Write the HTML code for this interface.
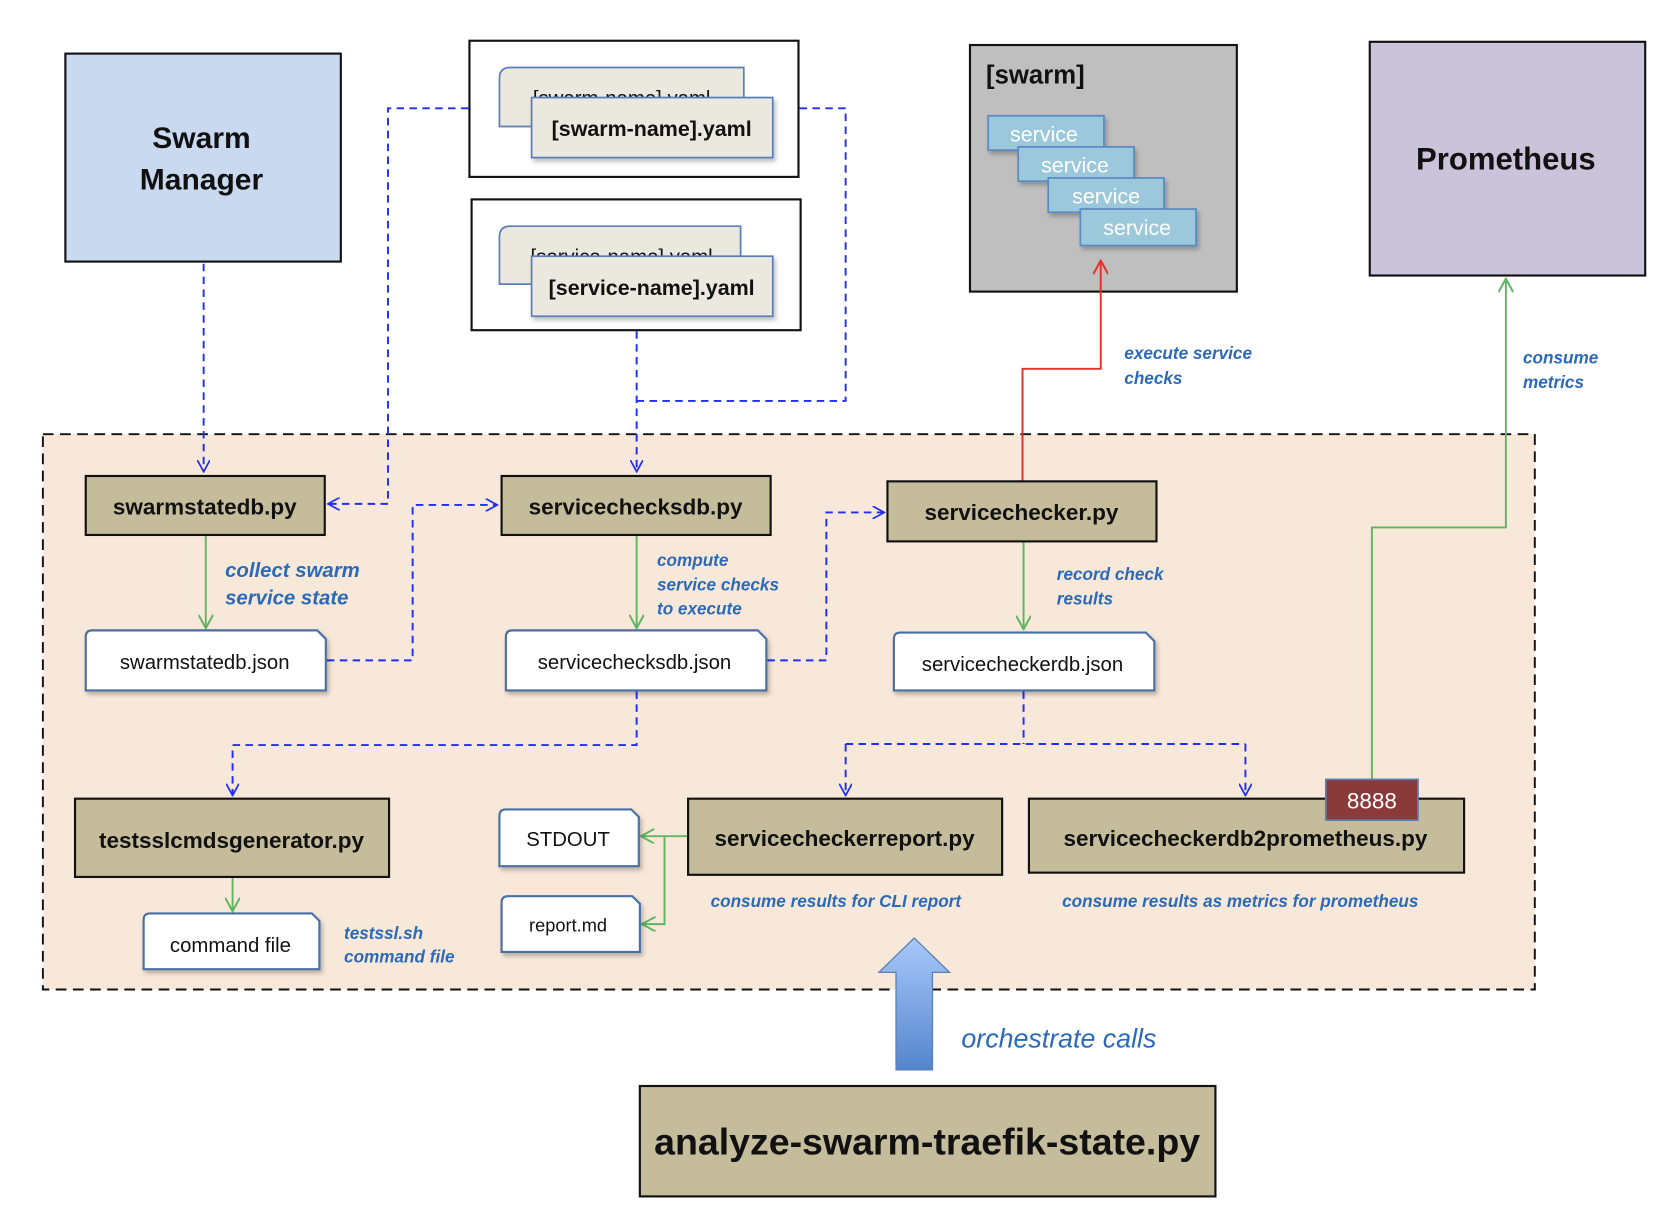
<!DOCTYPE html>
<html><head><meta charset="utf-8"><style>
html,body{margin:0;padding:0;background:#fff}
svg{display:block}
text{font-family:"Liberation Sans",sans-serif}
.b{font-weight:bold;fill:#111}
.lab{font-style:italic;font-weight:bold;fill:#2a6ab8}
.dash{fill:none;stroke:#1f2ff5;stroke-width:1.8;stroke-dasharray:7,5}
.gr{fill:none;stroke:#62b462;stroke-width:1.8}
.py{fill:#c4bc9a;stroke:#111;stroke-width:2}
.doc{fill:#fff;stroke:#4a6fa5;stroke-width:2}
</style></head><body>
<svg width="1672" height="1220" viewBox="0 0 1560 1138" preserveAspectRatio="none" xmlns="http://www.w3.org/2000/svg">
<defs>
<marker id="ab" viewBox="0 0 12 12" refX="11" refY="6" markerWidth="12" markerHeight="12" markerUnits="userSpaceOnUse" orient="auto"><path d="M0,0 L11,6 L0,12" fill="none" stroke="#1f2ff5" stroke-width="1.6"/></marker>
<marker id="ag" viewBox="0 0 12 12" refX="11" refY="6" markerWidth="14" markerHeight="14" markerUnits="userSpaceOnUse" orient="auto"><path d="M0,0 L11,6 L0,12" fill="none" stroke="#62b462" stroke-width="1.6"/></marker>
<marker id="ar" viewBox="0 0 12 12" refX="11" refY="6" markerWidth="14" markerHeight="14" markerUnits="userSpaceOnUse" orient="auto"><path d="M0,0 L11,6 L0,12" fill="none" stroke="#e8302a" stroke-width="1.6"/></marker>
<linearGradient id="bg" x1="0" y1="0" x2="0" y2="1"><stop offset="0" stop-color="#a9c8fa"/><stop offset="1" stop-color="#5485cc"/></linearGradient>
<filter id="sh" x="-10%" y="-10%" width="130%" height="140%"><feDropShadow dx="2" dy="3" stdDeviation="2" flood-color="#000" flood-opacity="0.25"/></filter>
</defs>

<!-- container -->
<rect x="40" y="405" width="1392" height="518" fill="#f8e8da" stroke="#111" stroke-width="1.8" stroke-dasharray="10,6"/>

<!-- Swarm manager -->
<rect x="61" y="50" width="257" height="194" fill="#c9daf0" stroke="#111" stroke-width="2"/>
<text x="188" y="138" class="b" font-size="28" text-anchor="middle">Swarm</text>
<text x="188" y="177" class="b" font-size="28" text-anchor="middle">Manager</text>

<!-- yaml boxes -->
<rect x="438" y="38" width="307" height="127" fill="#fff" stroke="#111" stroke-width="2"/>
<path d="M466,118 V73 Q466,63 476,63 H694 V118 Z" fill="#ebe8e0" stroke="#5a7fb8" stroke-width="1.6"/>
<text x="580" y="98" font-size="19" text-anchor="middle" fill="#111">[swarm-name].yaml</text>
<rect x="496" y="91" width="225" height="56" fill="#ebe8e0" stroke="#5a7fb8" stroke-width="1.6" filter="url(#sh)"/>
<text x="608" y="127" class="b" font-size="20" text-anchor="middle">[swarm-name].yaml</text>

<rect x="440" y="186" width="307" height="122" fill="#fff" stroke="#111" stroke-width="2"/>
<path d="M466,265 V221 Q466,211 476,211 H691 V265 Z" fill="#ebe8e0" stroke="#5a7fb8" stroke-width="1.6"/>
<text x="580" y="246" font-size="19" text-anchor="middle" fill="#111">[service-name].yaml</text>
<rect x="496" y="239" width="225" height="56" fill="#ebe8e0" stroke="#5a7fb8" stroke-width="1.6" filter="url(#sh)"/>
<text x="608" y="275" class="b" font-size="20" text-anchor="middle">[service-name].yaml</text>

<!-- swarm -->
<rect x="905" y="42" width="249" height="230" fill="#bfbfbf" stroke="#111" stroke-width="2"/>
<text x="920" y="78" class="b" font-size="24">[swarm]</text>
<g font-size="20" fill="#fff" text-anchor="middle">
<rect x="922" y="108" width="108" height="32" fill="#9cc8dc" stroke="#5a8ac0" stroke-width="1.6" filter="url(#sh)"/><text x="974" y="132" fill="#fff">service</text>
<rect x="950" y="137" width="108" height="32" fill="#9cc8dc" stroke="#5a8ac0" stroke-width="1.6" filter="url(#sh)"/><text x="1003" y="161" fill="#fff">service</text>
<rect x="978" y="166" width="108" height="32" fill="#9cc8dc" stroke="#5a8ac0" stroke-width="1.6" filter="url(#sh)"/><text x="1032" y="190" fill="#fff">service</text>
<rect x="1008" y="195" width="108" height="34" fill="#9cc8dc" stroke="#5a8ac0" stroke-width="1.6" filter="url(#sh)"/><text x="1061" y="219" fill="#fff">service</text>
</g>

<!-- Prometheus -->
<rect x="1278" y="39" width="257" height="218" fill="#cbc3da" stroke="#111" stroke-width="2"/>
<text x="1405" y="158" class="b" font-size="29" text-anchor="middle">Prometheus</text>

<!-- connectors blue -->
<path class="dash" d="M190,246 V440" marker-end="url(#ab)"/>
<path class="dash" d="M437,101 H362 V470 H306" marker-end="url(#ab)"/>
<path class="dash" d="M746,101 H789 V374 H594"/>
<path class="dash" d="M594,309 V440" marker-end="url(#ab)"/>
<path class="dash" d="M305,616 H385 V471 H464" marker-end="url(#ab)"/>
<path class="dash" d="M716,616 H771 V478 H825" marker-end="url(#ab)"/>
<path class="dash" d="M594,645 V695 H217 V742" marker-end="url(#ab)"/>
<path class="dash" d="M955,645 V694"/>
<path class="dash" d="M789,694 H1162"/>
<path class="dash" d="M789,694 V742" marker-end="url(#ab)"/>
<path class="dash" d="M1162,694 V742" marker-end="url(#ab)"/>

<!-- green -->
<path class="gr" d="M192,500 V586" marker-end="url(#ag)"/>
<path class="gr" d="M594,500 V586" marker-end="url(#ag)"/>
<path class="gr" d="M955,506 V587" marker-end="url(#ag)"/>
<path class="gr" d="M217,819 V850" marker-end="url(#ag)"/>
<path class="gr" d="M642,780 H598" marker-end="url(#ag)"/>
<path class="gr" d="M620,780 V862 H599" marker-end="url(#ag)"/>
<path class="gr" d="M1280,727 V492 H1405 V260" marker-end="url(#ag)"/>
<!-- red -->
<path d="M954,449 V344 H1027 V243" fill="none" stroke="#e8302a" stroke-width="1.8" marker-end="url(#ar)"/>

<!-- py boxes -->
<rect class="py" x="80" y="444" width="223" height="55"/><text x="191" y="480" class="b" font-size="21" text-anchor="middle">swarmstatedb.py</text>
<rect class="py" x="468" y="444" width="251" height="55"/><text x="593" y="480" class="b" font-size="21" text-anchor="middle">servicechecksdb.py</text>
<rect class="py" x="828" y="449" width="251" height="56"/><text x="953" y="485" class="b" font-size="21" text-anchor="middle">servicechecker.py</text>
<rect class="py" x="70" y="745" width="293" height="73"/><text x="216" y="791" class="b" font-size="21" text-anchor="middle">testsslcmdsgenerator.py</text>
<rect class="py" x="642" y="745" width="293" height="71"/><text x="788" y="789" class="b" font-size="21" text-anchor="middle">servicecheckerreport.py</text>
<rect class="py" x="960" y="745" width="406" height="69"/><text x="1162" y="789" class="b" font-size="21" text-anchor="middle">servicecheckerdb2prometheus.py</text>
<rect x="1237" y="727" width="86" height="38" fill="#8b3a3a" stroke="#5a7fb8" stroke-width="1.6"/><text x="1280" y="754" font-size="21" fill="#fff" text-anchor="middle">8888</text>
<rect class="py" x="597" y="1013" width="537" height="103"/><text x="865" y="1077" class="b" font-size="35" text-anchor="middle">analyze-swarm-traefik-state.py</text>

<!-- docs -->
<g filter="url(#sh)">
<path class="doc" d="M86,588 H296 L304,596 V644 H80 V594 Q80,588 86,588 Z"/>
<path class="doc" d="M478,588 H707 L715,596 V644 H472 V594 Q472,588 478,588 Z"/>
<path class="doc" d="M840,590 H1069 L1077,598 V644 H834 V596 Q834,590 840,590 Z"/>
<path class="doc" d="M472,755 H589 L596,762 V808 H466 V761 Q466,755 472,755 Z"/>
<path class="doc" d="M474,836 H590 L597,843 V888 H468 V842 Q468,836 474,836 Z"/>
<path class="doc" d="M140,852 H291 L298,859 V904 H134 V858 Q134,852 140,852 Z"/>
</g>
<text x="191" y="624" font-size="19" text-anchor="middle" fill="#111">swarmstatedb.json</text>
<text x="592" y="624" font-size="19" text-anchor="middle" fill="#111">servicechecksdb.json</text>
<text x="954" y="626" font-size="19" text-anchor="middle" fill="#111">servicecheckerdb.json</text>
<text x="530" y="789" font-size="19" text-anchor="middle" fill="#111">STDOUT</text>
<text x="530" y="869" font-size="17" text-anchor="middle" fill="#111">report.md</text>
<text x="215" y="888" font-size="19" text-anchor="middle" fill="#111">command file</text>

<!-- labels -->
<text class="lab" font-size="19" x="210" y="538">collect swarm</text>
<text class="lab" font-size="19" x="210" y="564">service state</text>
<g class="lab" font-size="16">
<text x="613" y="528">compute</text><text x="613" y="551">service checks</text><text x="613" y="573">to execute</text>
<text x="986" y="541">record check</text><text x="986" y="564">results</text>
<text x="1049" y="335">execute service</text><text x="1049" y="358">checks</text>
<text x="1421" y="339">consume</text><text x="1421" y="362">metrics</text>
<text x="663" y="846">consume results for CLI report</text>
<text x="991" y="846">consume results as metrics for prometheus</text>
<text x="321" y="876">testssl.sh</text><text x="321" y="898">command file</text>
</g>
<text x="897" y="977" font-size="25" font-style="italic" fill="#2a6ab8">orchestrate calls</text>

<!-- big arrow -->
<path d="M836,998 V907 H820 L853,875 L886,907 H870 V998 Z" fill="url(#bg)" stroke="#5a7fb8" stroke-width="1.2"/>
</svg>
</body></html>
